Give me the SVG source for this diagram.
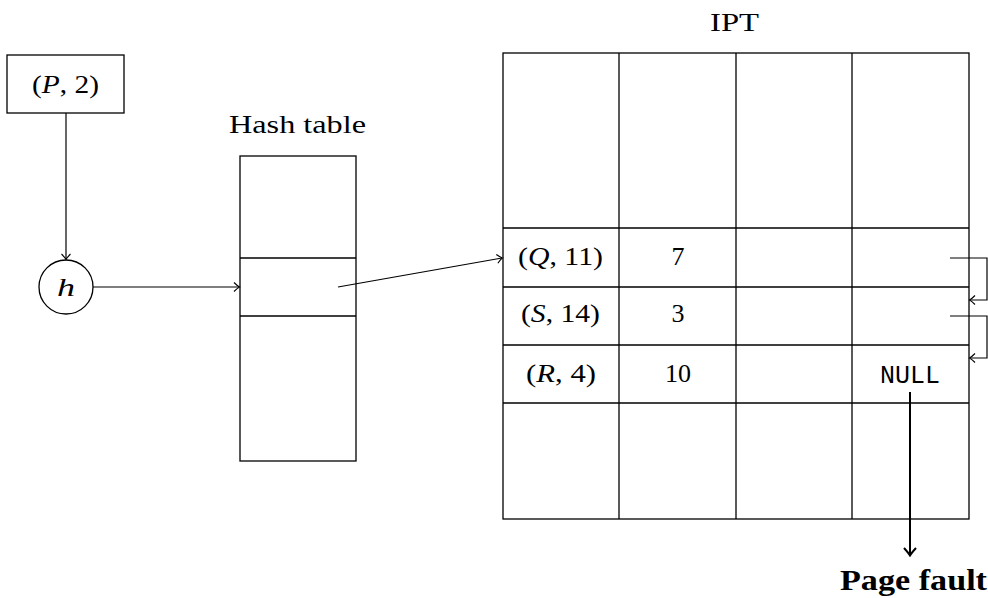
<svg xmlns="http://www.w3.org/2000/svg" width="988" height="598" viewBox="0 0 988 598">
<defs>
<style>
.ln{fill:none;stroke:#000;stroke-width:1.2}
.cell{fill:none;stroke:#000;stroke-width:1.3}
.t{font-family:"Liberation Serif","DejaVu Serif",serif;font-size:26px;fill:#000}
.i{font-style:italic}
.m{font-family:"Liberation Mono","DejaVu Sans Mono",monospace;font-size:25px;fill:#000}
.b{font-family:"Liberation Serif","DejaVu Serif",serif;font-size:29px;font-weight:bold;fill:#000}
</style>
<marker id="to" viewBox="-6 -6 8 12" markerWidth="8" markerHeight="12" refX="0" refY="0" orient="auto" markerUnits="userSpaceOnUse">
<path d="M-5,-4.5 Q-1.5,-1 0.5,0 Q-1.5,1 -5,4.5" fill="none" stroke="#000" stroke-width="1.1"/>
</marker>
<marker id="toB" viewBox="-9 -8 11 16" markerWidth="11" markerHeight="16" refX="0" refY="0" orient="auto" markerUnits="userSpaceOnUse">
<path d="M-7,-6 Q-2,-1.5 0.5,0 Q-2,1.5 -7,6" fill="none" stroke="#000" stroke-width="2"/>
</marker>
</defs>
<rect width="988" height="598" fill="#fff"/>

<g id="input">
<rect class="cell" x="7" y="55" width="117" height="58"/>
<text class="t" x="32" y="93" textLength="67" lengthAdjust="spacingAndGlyphs">(<tspan class="i">P</tspan>, 2)</text>
</g>

<g id="hash-fn">
<circle class="cell" cx="66" cy="287" r="27"/>
<text class="t i" x="57" y="296" font-size="29" textLength="18" lengthAdjust="spacingAndGlyphs">h</text>
</g>

<g id="hash-table">
<text class="t" x="229" y="133" textLength="137" lengthAdjust="spacingAndGlyphs">Hash table</text>
<rect class="cell" x="240" y="156" width="116" height="305"/>
<line class="cell" x1="240" y1="258" x2="356" y2="258"/>
<line class="cell" x1="240" y1="316" x2="356" y2="316"/>
</g>

<g id="ipt">
<text class="t" x="710" y="31" textLength="49" lengthAdjust="spacingAndGlyphs">IPT</text>
<rect class="cell" x="503" y="53" width="466" height="466"/>
<line class="cell" x1="619" y1="53" x2="619" y2="519"/>
<line class="cell" x1="736" y1="53" x2="736" y2="519"/>
<line class="cell" x1="852" y1="53" x2="852" y2="519"/>
<line class="cell" x1="503" y1="228" x2="969" y2="228"/>
<line class="cell" x1="503" y1="287" x2="969" y2="287"/>
<line class="cell" x1="503" y1="345" x2="969" y2="345"/>
<line class="cell" x1="503" y1="403" x2="969" y2="403"/>
<text class="t" x="518" y="265" textLength="85" lengthAdjust="spacingAndGlyphs">(<tspan class="i">Q</tspan>, 11)</text>
<text class="t" x="678" y="265" text-anchor="middle">7</text>
<text class="t" x="521" y="322" textLength="79" lengthAdjust="spacingAndGlyphs">(<tspan class="i">S</tspan>, 14)</text>
<text class="t" x="678" y="322" text-anchor="middle">3</text>
<text class="t" x="526" y="382" textLength="70" lengthAdjust="spacingAndGlyphs">(<tspan class="i">R</tspan>, 4)</text>
<text class="t" x="678" y="382" text-anchor="middle">10</text>
<text class="m" x="910" y="383" text-anchor="middle">NULL</text>
</g>

<g id="page-fault">
<text class="b" x="840" y="590" textLength="147" lengthAdjust="spacingAndGlyphs">Page fault</text>
</g>

<g id="connectors">
<line class="ln" x1="66" y1="113" x2="66" y2="259" marker-end="url(#to)"/>
<line class="ln" x1="93" y1="287" x2="239" y2="287" marker-end="url(#to)"/>
<line class="ln" x1="338" y1="287" x2="502" y2="258" marker-end="url(#to)"/>
<polyline class="ln" points="950,258 987,258 987,300 970,300" marker-end="url(#to)"/>
<polyline class="ln" points="950,316 987,316 987,358 970,358" marker-end="url(#to)"/>
<line x1="910" y1="392" x2="910" y2="555" stroke="#000" stroke-width="2" marker-end="url(#toB)"/>
</g>
</svg>
